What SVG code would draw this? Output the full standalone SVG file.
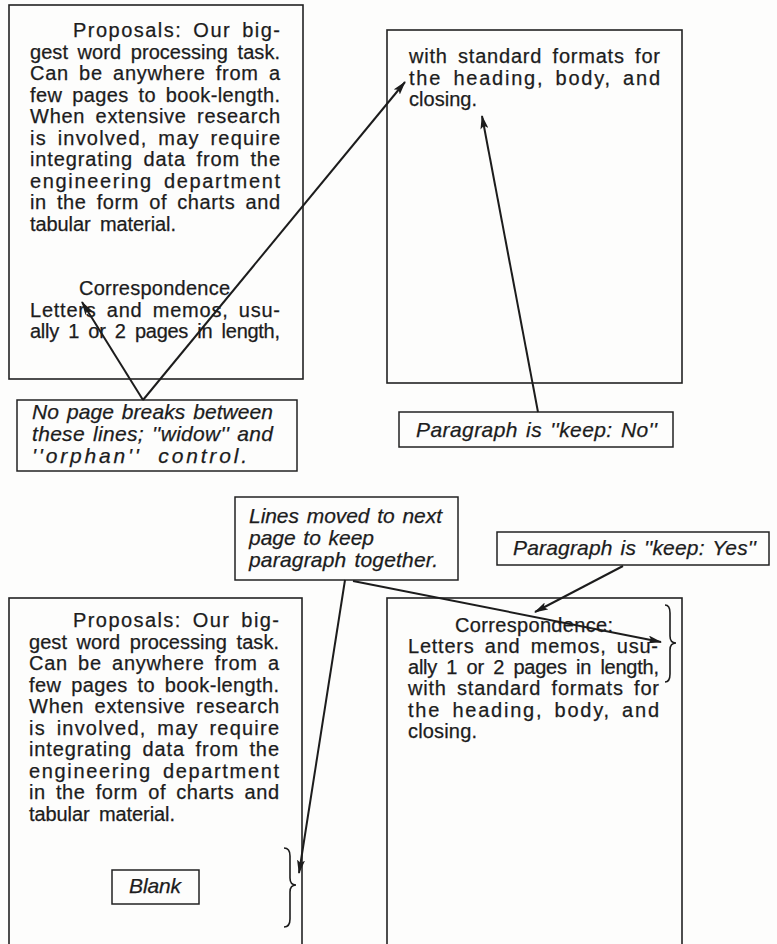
<svg xmlns="http://www.w3.org/2000/svg" width="777" height="944" viewBox="0 0 777 944">
<style>
  .bg { fill: #fdfdfc; }
  .page { fill: none; stroke: #222; stroke-width: 1.6; }
  .lbl { fill: none; stroke: #222; stroke-width: 1.5; }
  .t { font-family: "Liberation Sans", Arial, sans-serif; font-size: 20px; fill: #1c1c1c; stroke: #1c1c1c; stroke-width: 0.25; word-spacing: 4px; }
  .i { font-family: "Liberation Sans", Arial, sans-serif; font-size: 21px; font-style: italic; fill: #1c1c1c; stroke: #1c1c1c; stroke-width: 0.25; word-spacing: 2px; }
  .conn { fill: none; stroke: #1c1c1c; stroke-width: 2; marker-end: url(#ah); }
  .brace { fill: none; stroke: #1c1c1c; stroke-width: 1.6; }
</style>
<defs>
  <marker id="ah" viewBox="0 0 14 8" refX="13" refY="4" markerWidth="14" markerHeight="8" markerUnits="userSpaceOnUse" orient="auto">
    <path d="M0,0 L14,4 L0,8 L3,4 Z" fill="#1c1c1c"/>
  </marker>
</defs>
<rect class="bg" x="0" y="0" width="777" height="944"/>

<g id="page-a">
  <rect class="page" x="9" y="5" width="294" height="374"/>
  <text class="t" x="73" y="37" textLength="207">Proposals: Our big-</text>
  <text class="t" x="30" y="58.5" textLength="250">gest word processing task.</text>
  <text class="t" x="30" y="80" textLength="250">Can be anywhere from a</text>
  <text class="t" x="30" y="101.5" textLength="250">few pages to book-length.</text>
  <text class="t" x="30" y="123" textLength="250">When extensive research</text>
  <text class="t" x="30" y="144.5" textLength="250">is involved, may require</text>
  <text class="t" x="30" y="166" textLength="250">integrating data from the</text>
  <text class="t" x="30" y="187.5" textLength="250">engineering department</text>
  <text class="t" x="30" y="209" textLength="250">in the form of charts and</text>
  <text class="t" x="30" y="230.5" textLength="146">tabular material.</text>
  <text class="t" x="79" y="295" textLength="151">Correspondence</text>
  <text class="t" x="30" y="316.5" textLength="250">Letters and memos, usu-</text>
  <text class="t" x="30" y="338" textLength="250">ally 1 or 2 pages in length,</text>
</g>

<g id="page-b">
  <rect class="page" x="387" y="30" width="295" height="353"/>
  <text class="t" x="409" y="63" textLength="251">with standard formats for</text>
  <text class="t" x="409" y="84.5" textLength="251">the heading, body, and</text>
  <text class="t" x="409" y="106" textLength="68">closing.</text>
</g>

<g id="label-nobreak">
  <rect class="lbl" x="17" y="400" width="280" height="71"/>
  <text class="i" x="32" y="419" textLength="241">No page breaks between</text>
  <text class="i" x="32" y="441" textLength="241">these lines; ''widow'' and</text>
  <text class="i" x="32" y="463" textLength="215" style="word-spacing:8px">''orphan'' control.</text>
</g>

<g id="label-keepno">
  <rect class="lbl" x="399" y="412" width="274" height="35"/>
  <text class="i" x="416" y="437" textLength="241">Paragraph is ''keep: No''</text>
</g>

<g id="label-moved">
  <rect class="lbl" x="235" y="497" width="223" height="83"/>
  <text class="i" x="249" y="523" textLength="193">Lines moved to next</text>
  <text class="i" x="249" y="545" textLength="125">page to keep</text>
  <text class="i" x="249" y="567" textLength="189">paragraph together.</text>
</g>

<g id="label-keepyes">
  <rect class="lbl" x="497" y="532" width="272" height="33"/>
  <text class="i" x="513" y="555" textLength="243">Paragraph is ''keep: Yes''</text>
</g>

<g id="page-c">
  <rect class="page" x="9" y="598" width="293" height="360"/>
  <text class="t" x="73" y="627" textLength="206">Proposals: Our big-</text>
  <text class="t" x="29" y="648.5" textLength="250">gest word processing task.</text>
  <text class="t" x="29" y="670" textLength="250">Can be anywhere from a</text>
  <text class="t" x="29" y="691.5" textLength="250">few pages to book-length.</text>
  <text class="t" x="29" y="713" textLength="250">When extensive research</text>
  <text class="t" x="29" y="734.5" textLength="250">is involved, may require</text>
  <text class="t" x="29" y="756" textLength="250">integrating data from the</text>
  <text class="t" x="29" y="777.5" textLength="250">engineering department</text>
  <text class="t" x="29" y="799" textLength="250">in the form of charts and</text>
  <text class="t" x="29" y="820.5" textLength="146">tabular material.</text>
</g>

<g id="label-blank">
  <rect class="lbl" x="112" y="870" width="87" height="34"/>
  <text class="i" x="129" y="893" textLength="52">Blank</text>
</g>

<g id="page-d">
  <rect class="page" x="387" y="598" width="295" height="360"/>
  <text class="t" x="455" y="632" textLength="158">Correspondence:</text>
  <text class="t" x="408" y="652.5" textLength="250">Letters and memos, usu-</text>
  <text class="t" x="408" y="674" textLength="251">ally 1 or 2 pages in length,</text>
  <text class="t" x="408" y="695" textLength="251">with standard formats for</text>
  <text class="t" x="408" y="716.5" textLength="251">the heading, body, and</text>
  <text class="t" x="408" y="737.5" textLength="69">closing.</text>
</g>

<g id="braces">
  <path class="brace" d="M284,848 Q290,848 290,856 L290,878 Q290,885 296,885 Q290,885 290,892 L290,919 Q290,927 284,927"/>
  <path class="brace" d="M665,605 Q670,605 670,613 L670,636 Q670,643 676,643 Q670,643 670,650 L670,674 Q670,682 665,682"/>
</g>

<g id="connectors">
  <line class="conn" x1="143" y1="400" x2="82" y2="302"/>
  <line class="conn" x1="143" y1="400" x2="405" y2="82"/>
  <line class="conn" x1="538" y1="412" x2="482" y2="116"/>
  <line class="conn" x1="345" y1="580" x2="299" y2="873"/>
  <line class="conn" x1="353" y1="581" x2="661" y2="642"/>
  <line class="conn" x1="623" y1="566" x2="535" y2="612"/>
</g>
</svg>
